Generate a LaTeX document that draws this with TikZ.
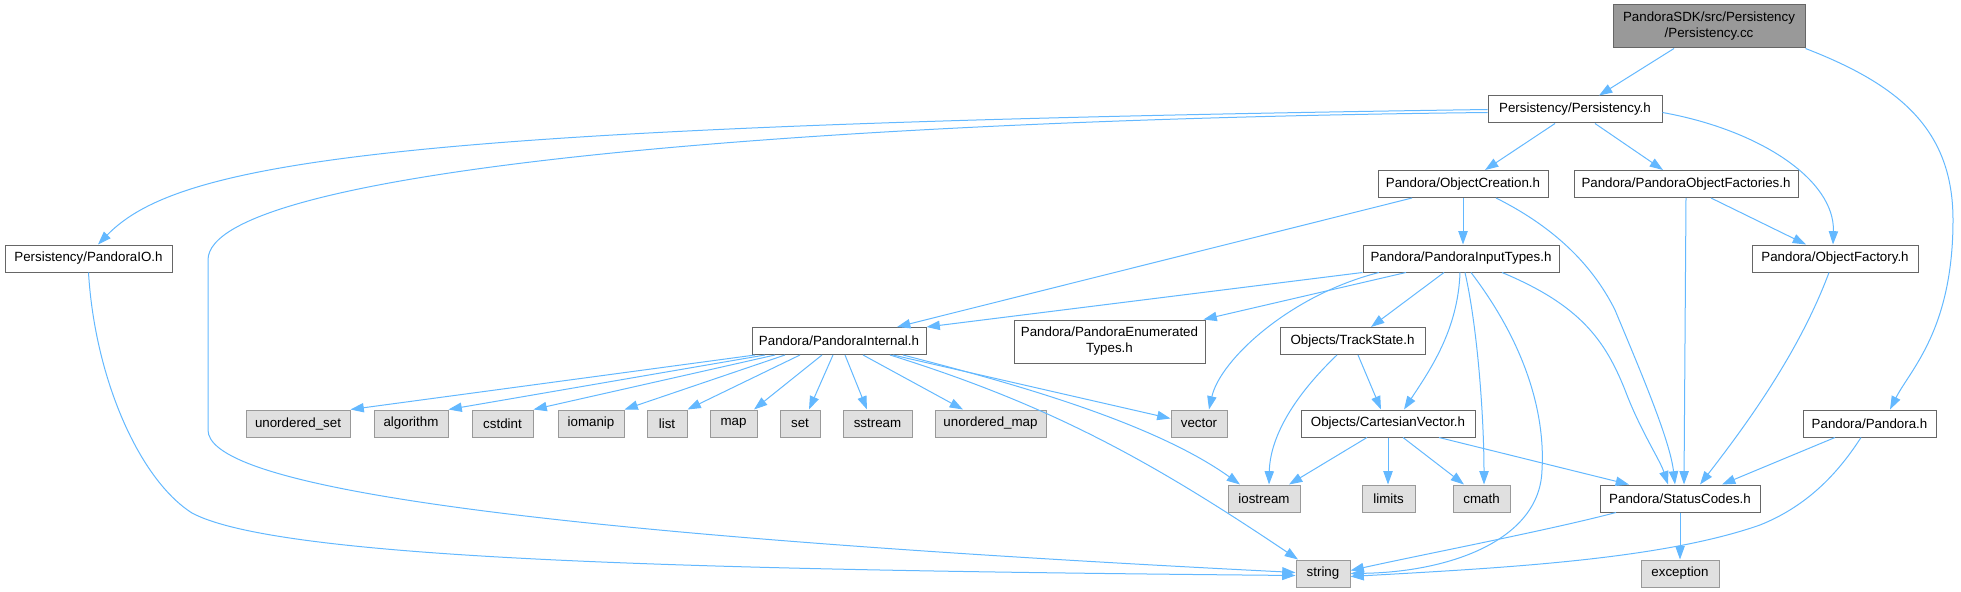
\documentclass[tikz,border=0pt]{standalone}
\usepackage{fontspec}
\setmainfont{Liberation Sans}
\usetikzlibrary{arrows.meta,calc}
\definecolor{edgec}{HTML}{63B8FF}
\definecolor{bordw}{HTML}{666666}
\definecolor{bordg}{HTML}{999999}
\definecolor{fillg}{HTML}{E0E0E0}
\definecolor{fillr}{HTML}{999999}
\begin{document}
\begin{tikzpicture}[x=0.75pt,y=-0.75pt,
  base/.style={line width=0.75pt, inner sep=0pt, font=\fontsize{10}{12}\selectfont, align=center, minimum height=20.25pt},
  hbox/.style={base, draw=bordw, fill=white},
  sysbox/.style={base, draw=bordg, fill=fillg},
  rootbox/.style={base, draw=bordw, fill=fillr},
  tall/.style={minimum height=32.25pt},
  wd/.style={minimum width=#1*0.75pt},
  dep/.style={draw=edgec, line width=0.75pt, -{Triangle[length=10pt,width=7pt]}}]
\useasboundingbox (0,0) rectangle (1961,592);
% nodes
\node[rootbox,tall,wd=192] (root) at (1709,26.5) {PandoraSDK/src/Persistency\\/Persistency.cc};
\node[hbox,wd=174] (persh) at (1575,109.5) {Persistency/Persistency.h};
\node[hbox,wd=170] (objcr) at (1463,184) {Pandora/ObjectCreation.h};
\node[hbox,wd=224] (pof) at (1686,184) {Pandora/PandoraObjectFactories.h};
\node[hbox,wd=167] (pio) at (88.5,258.5) {Persistency/PandoraIO.h};
\node[hbox,wd=196] (pit) at (1461,258.5) {Pandora/PandoraInputTypes.h};
\node[hbox,wd=166] (of) at (1835,258.5) {Pandora/ObjectFactory.h};
\node[hbox,wd=174] (pint) at (839,341) {Pandora/PandoraInternal.h};
\node[hbox,tall,wd=191] (pet) at (1109.5,341.5) {Pandora/PandoraEnumerated\\Types.h};
\node[hbox,wd=145] (ts) at (1352.5,341) {Objects/TrackState.h};
\node[sysbox,wd=104] (uset) at (298,423.5) {unordered\_set};
\node[sysbox,wd=74] (algo) at (411,423.5) {algorithm};
\node[sysbox,wd=61] (cstdint) at (502.5,423.5) {cstdint};
\node[sysbox,wd=66] (iomanip) at (591,423.5) {iomanip};
\node[sysbox,wd=40] (list) at (667,423.5) {list};
\node[sysbox,wd=47] (map) at (733.5,423.5) {map};
\node[sysbox,wd=40] (set) at (800,423.5) {set};
\node[sysbox,wd=69] (sstream) at (877.5,423.5) {sstream};
\node[sysbox,wd=111] (umap) at (990.5,423.5) {unordered\_map};
\node[sysbox,wd=56] (vector) at (1199,423.5) {vector};
\node[hbox,wd=174] (cv) at (1388,423.5) {Objects/CartesianVector.h};
\node[hbox,wd=133] (pandora) at (1869.5,423.5) {Pandora/Pandora.h};
\node[sysbox,wd=72] (iostream) at (1264,498.5) {iostream};
\node[sysbox,wd=53] (limits) at (1388.5,498.5) {limits};
\node[sysbox,wd=57] (cmath) at (1481.5,498.5) {cmath};
\node[hbox,wd=160] (sc) at (1680,498.5) {Pandora/StatusCodes.h};
\node[sysbox,wd=54] (string) at (1323,573.5) {string};
\node[sysbox,wd=78] (exception) at (1680,573.5) {exception};
% edges
\draw[dep] ($(root.south)+(-35,0)$) -- ($(persh.north)+(24,0)$);
\draw[dep] (root.south east) .. controls (1900,85) and (1953,130) .. (1953,220)
  .. controls (1953,330) and (1910,370) .. ($(pandora.north)+(20.5,0)$);
\draw[dep] (persh.west) .. controls (400,125) and (180,160) .. ($(pio.north)+(9.5,0)$);
\draw[dep] ($(persh.west)+(0,3)$) .. controls (800,120) and (208,170) .. (208,260) -- (208,430)
  .. controls (208,480) and (450,530) .. ($(string.west)+(0,-1)$);
\draw[dep] ($(persh.south)+(-20,0)$) -- ($(objcr.north)+(22,0)$);
\draw[dep] ($(persh.south)+(20,0)$) -- ($(pof.north)+(-23,0)$);
\draw[dep] ($(persh.east)+(0,3)$) .. controls (1760,130) and (1835,180) .. ($(of.north)+(-2,0)$);
\draw[dep] ($(objcr.south)+(-51,0)$) -- ($(pint.north)+(58,0)$);
\draw[dep] (objcr.south) -- (objcr.south |- pit.north);
\draw[dep] ($(objcr.south)+(33,0)$) .. controls (1560,230) and (1595,270) .. (1615,310)
  .. controls (1640,370) and (1670,440) .. ($(sc.north)+(-5,0)$);
\draw[dep] (pof.south) -- ($(sc.north)+(4,0)$);
\draw[dep] ($(pof.south)+(25,0)$) -- ($(of.north)+(-29,0)$);
\draw[dep] (pio.south) .. controls (95,380) and (140,480) .. (192,513)
  .. controls (280,560) and (700,570) .. ($(string.west)+(0,2)$);
\draw[dep] (pit.south west) -- (pint.north east);
\draw[dep] ($(pit.south)+(-55,0)$) -- ($(pet.north east)+(-2,0)$);
\draw[dep] ($(pit.south)+(-82,0)$) .. controls (1290,295) and (1220,360) .. ($(vector.north)+(10,0)$);
\draw[dep] ($(pit.south)+(-17,0)$) -- ($(ts.north)+(18.5,0)$);
\draw[dep] ($(pit.south)+(-1,0)$) .. controls (1458,330) and (1430,370) .. ($(cv.north)+(16,0)$);
\draw[dep] ($(pit.south)+(4,0)$) .. controls (1478,330) and (1484,420) .. ($(cmath.north)+(2.5,0)$);
\draw[dep] ($(pit.south)+(10,0)$) .. controls (1530,350) and (1545,420) .. (1542,470)
  .. controls (1540,540) and (1450,572) .. (string.east);
\draw[dep] ($(pit.south)+(41,0)$) .. controls (1580,305) and (1605,340) .. (1625,390)
  .. controls (1640,430) and (1660,460) .. ($(sc.north)+(-12,0)$);
\draw[dep] ($(of.south)+(-6,0)$) .. controls (1800,350) and (1750,420) .. ($(sc.north)+(20,0)$);
\draw[dep] ($(pint.south)+(-84,0)$) -- (uset.north east);
\draw[dep] ($(pint.south)+(-74,0)$) -- (algo.north east);
\draw[dep] ($(pint.south)+(-64,0)$) -- (cstdint.north east);
\draw[dep] ($(pint.south)+(-54,0)$) -- (iomanip.north east);
\draw[dep] ($(pint.south)+(-39,0)$) -- (list.north east);
\draw[dep] ($(pint.south)+(-17,0)$) -- ($(map.north)+(20.5,0)$);
\draw[dep] ($(pint.south)+(-6,0)$) -- ($(set.north)+(9,0)$);
\draw[dep] ($(pint.south)+(6,0)$) -- ($(sstream.north)+(-10.5,0)$);
\draw[dep] ($(pint.south)+(24,0)$) -- ($(umap.north)+(-27.5,0)$);
\draw[dep] ($(pint.south)+(54,0)$) -- ($(vector.west)+(0,-5)$);
\draw[dep] ($(pint.south)+(64,0)$) .. controls (1000,380) and (1150,420) .. ($(iostream.north)+(-24,0)$);
\draw[dep] ($(pint.south)+(51,0)$) .. controls (1050,405) and (1150,460) .. ($(string.north)+(-25,0)$);
\draw[dep] ($(ts.south)+(-15.5,0)$) .. controls (1290,400) and (1270,440) .. ($(iostream.north)+(5,0)$);
\draw[dep] ($(ts.south)+(5.5,0)$) -- ($(cv.north)+(-7,0)$);
\draw[dep] ($(cv.south)+(-21,0)$) -- ($(iostream.north)+(25,0)$);
\draw[dep] (cv.south) -- (cv.south |- limits.north);
\draw[dep] ($(cv.south)+(15,0)$) -- ($(cmath.north)+(-17.5,0)$);
\draw[dep] ($(cv.south)+(51,0)$) -- ($(sc.north)+(-51,0)$);
\draw[dep] ($(pandora.south)+(-34.5,0)$) -- ($(sc.north)+(42,0)$);
\draw[dep] ($(pandora.south)+(-8.5,0)$) .. controls (1840,470) and (1810,505) .. (1760,525)
  .. controls (1660,560) and (1500,568) .. ($(string.east)+(0,3)$);
\draw[dep] ($(sc.south)+(-64,0)$) .. controls (1550,530) and (1420,555) .. ($(string.east)+(0,-3)$);
\draw[dep] (sc.south) -- (exception.north);
\end{tikzpicture}
\end{document}
